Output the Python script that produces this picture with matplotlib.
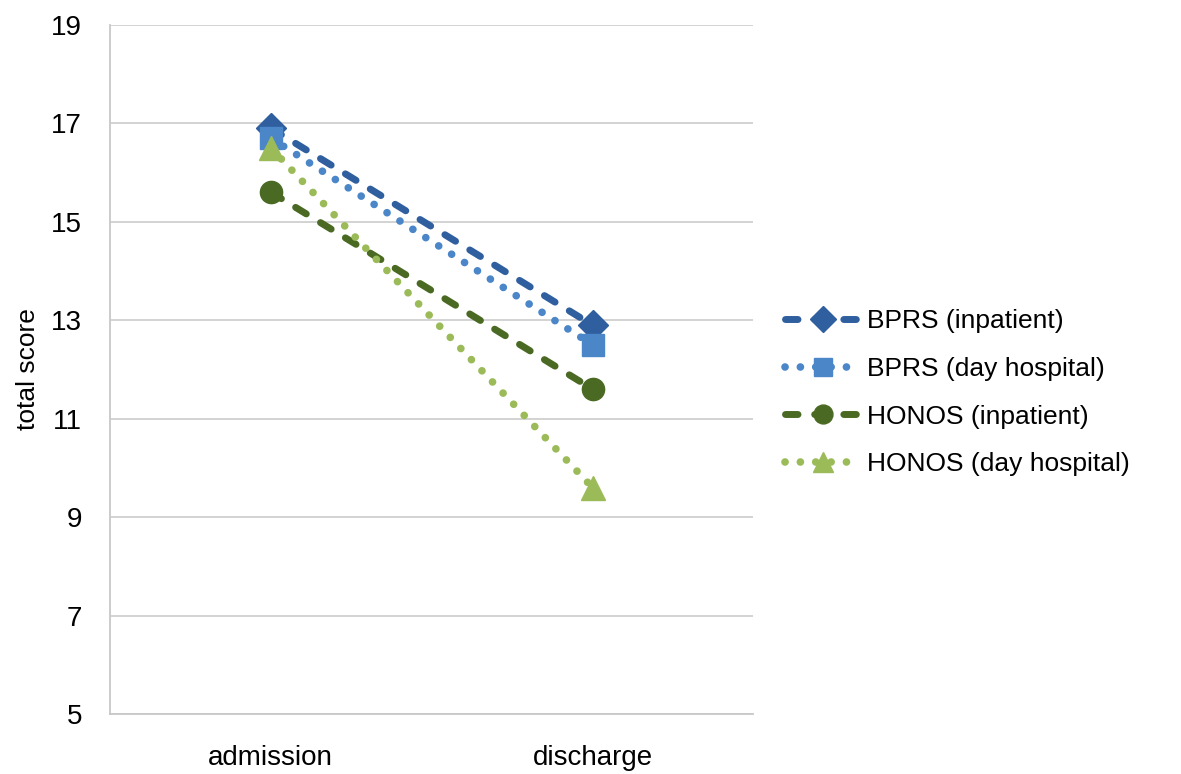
import matplotlib
matplotlib.use('Agg')
import matplotlib.pyplot as plt

plt.rcParams['font.family'] = ['Liberation Sans', 'DejaVu Sans']

categories = ['admission', 'discharge']
bprs_inpatient = [16.9, 12.9]
bprs_day = [16.7, 12.5]
honos_inpatient = [15.6, 11.6]
honos_day = [16.5, 9.6]

dashed = (0, (1.8, 2.4))
dotted = (0, (0.01, 2.0))

series = [
    ('BPRS (inpatient)', bprs_inpatient, '#2f5f9f', dashed, 5.0, 'D', 15),
    ('BPRS (day hospital)', bprs_day, '#4a86c8', dotted, 5.5, 's', 16),
    ('HONOS (inpatient)', honos_inpatient, '#4a6a24', dashed, 5.0, 'o', 16),
    ('HONOS (day hospital)', honos_day, '#9bbb59', dotted, 5.5, '^', 17),
]

fig = plt.figure(figsize=(11.81, 7.74), dpi=100)
ax = fig.add_axes([0.093, 0.0775, 0.545, 0.8905])

x = list(range(len(categories)))
for label, vals, color, ls, lw, marker, ms in series:
    ax.plot(x, vals, color=color, linestyle=ls, linewidth=lw,
            dash_capstyle='round', solid_capstyle='round',
            marker=marker, markersize=ms, markerfacecolor=color,
            markeredgecolor=color, label=label)

ax.set_xlim(-0.5, 1.5)
ax.set_ylim(5, 19)
ax.set_yticks(range(5, 20, 2))
ax.set_xticks(x)
ax.set_xticklabels(categories, fontsize=20)
ax.tick_params(axis='y', labelsize=20, length=0, pad=20)
ax.tick_params(axis='x', length=0, pad=22)
ax.set_ylabel('total score', fontsize=19, labelpad=8)
ax.grid(axis='y', color='#d0d0d0', linewidth=1.3)
ax.set_axisbelow(True)
for s in ['top', 'right']:
    ax.spines[s].set_visible(False)
for s in ['left', 'bottom']:
    ax.spines[s].set_color('#c8c8c8')
    ax.spines[s].set_linewidth(1.3)

ax.legend(loc='center left', bbox_to_anchor=(1.012, 0.466), frameon=False,
          fontsize=19, handlelength=2.9, handletextpad=0.2, labelspacing=0.9,
          markerscale=0.85)

fig.savefig('out.png', dpi=100)
